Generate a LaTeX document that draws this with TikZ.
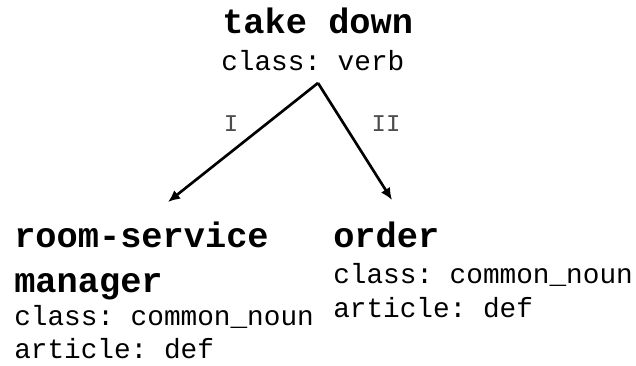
\documentclass[tikz,border=0pt]{standalone}
\usepackage{fontspec}
\setmonofont{Liberation Mono}
\usetikzlibrary{arrows.meta}
\begin{document}
\begin{tikzpicture}[x=0.75pt,y=-0.75pt,
  head/.style={anchor=base west, inner sep=0pt, font=\ttfamily\bfseries\fontsize{26.5}{30}\selectfont},
  attr/.style={anchor=base west, inner sep=0pt, font=\ttfamily\fontsize{20.8}{25}\selectfont},
  lbl/.style={inner sep=0pt, text=black!70, font=\ttfamily\fontsize{18}{22}\selectfont},
  edge/.style={line width=2pt, -{Latex[length=9pt,width=8pt]}}
]
\useasboundingbox (0,0) rectangle (636,365);
% top node
\node[head] (td) at (222,33) {take down};
\node[attr] (tdc) at (221,70) {class: verb};
% left node
\node[head] (rs1) at (14,247) {room-service};
\node[head] (rs2) at (14,292) {manager};
\node[attr] (rsc) at (14,325) {class: common\_noun};
\node[attr] (rsa) at (14,358) {article: def};
% right node
\node[head] (or) at (333,247) {order};
\node[attr] (orc) at (333,283) {class: common\_noun};
\node[attr] (ora) at (333,317) {article: def};
% connectors
\coordinate (apex) at (318,83);
\coordinate (tipL) at (168,202);
\coordinate (tipR) at (392,200);
\draw[edge] (apex) -- (tipL);
\draw[edge] (apex) -- (tipR);
\node[lbl] (l1) at (231,124) {I};
\node[lbl] (l2) at (386,124) {II};
\end{tikzpicture}
\end{document}
